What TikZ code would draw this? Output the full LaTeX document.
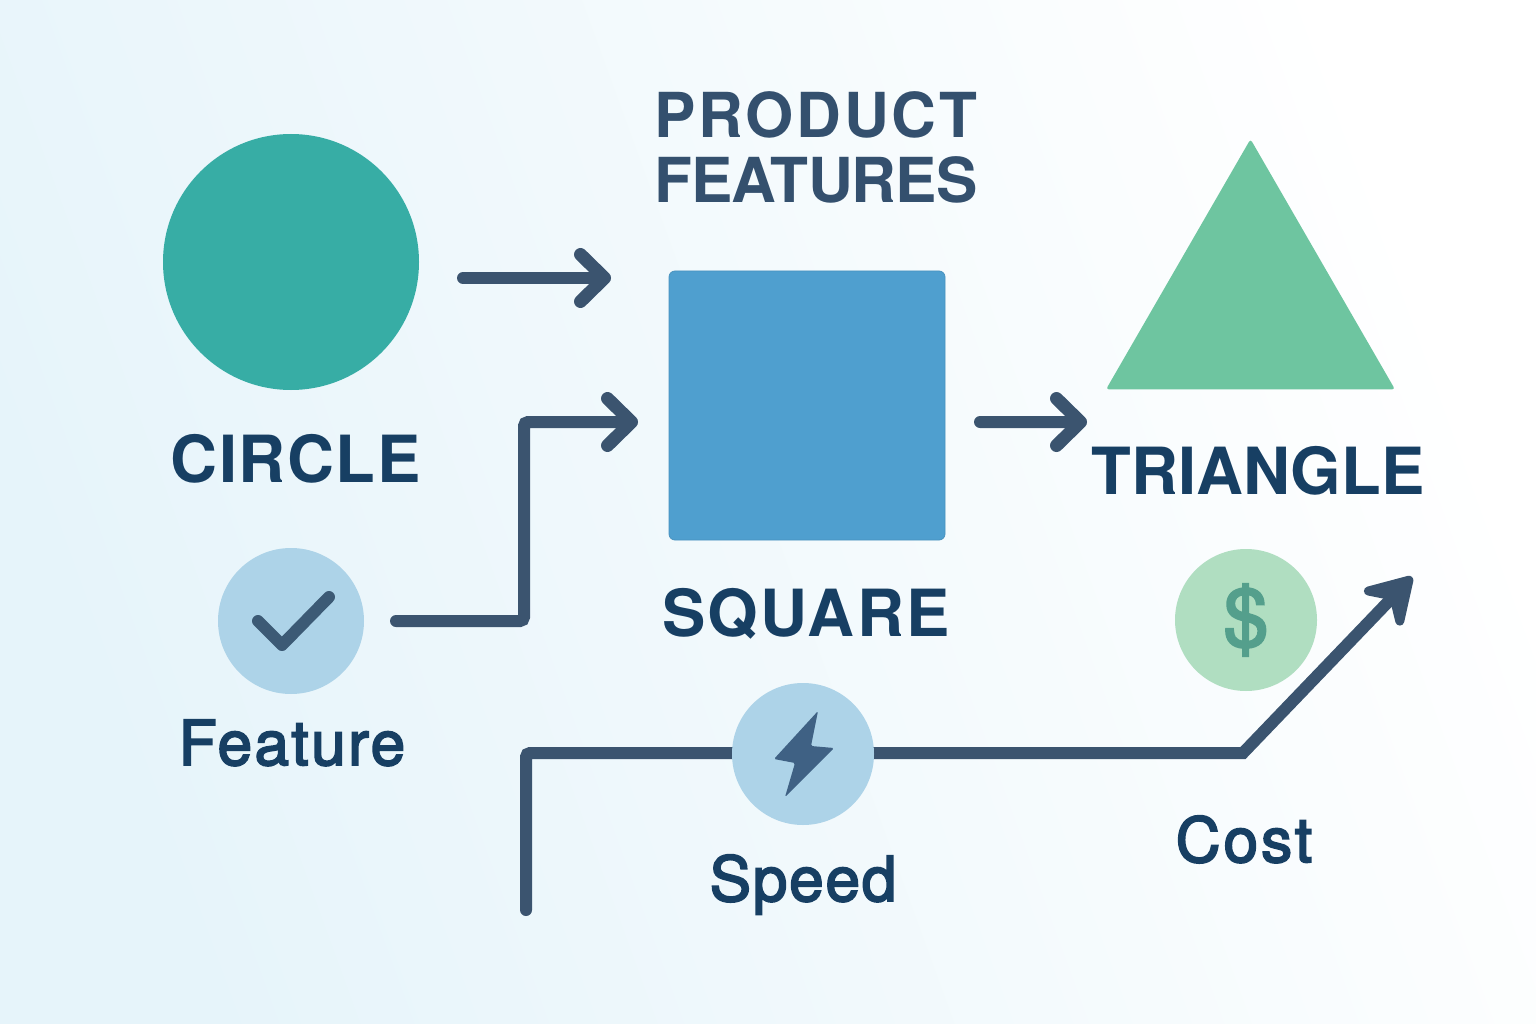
\documentclass[tikz,border=0pt]{standalone}
\usepackage{fontspec}
\setmainfont{TeX Gyre Heros}
\newfontfamily\labelfont[FakeBold=3]{TeX Gyre Heros}
\usetikzlibrary{arrows.meta,shapes.geometric}
\definecolor{inkdark}{HTML}{173F63}
\definecolor{inktitle}{HTML}{34506E}
\definecolor{linecol}{HTML}{3B546F}
\definecolor{tealcol}{HTML}{37ADA5}
\definecolor{bluecol}{HTML}{4F9FCF}
\definecolor{greencol}{HTML}{6EC5A0}
\definecolor{iconblue}{HTML}{ADD3E8}
\definecolor{icongreen}{HTML}{B0DEC1}
\definecolor{dollarcol}{HTML}{549F8C}
\definecolor{boltcol}{HTML}{3F6184}
\definecolor{checkcol}{HTML}{3C5A75}
\definecolor{bgleft}{HTML}{E6F4FA}
\definecolor{bgmiddle}{HTML}{F4FAFC}
\definecolor{bgright}{HTML}{FFFFFF}
\tikzset{
  shapelabel/.style={anchor=base, inner sep=0pt, text=inkdark, font=\fontsize{65}{65}\selectfont\bfseries},
  smalllabel/.style={anchor=base, inner sep=0pt, text=inkdark, font=\fontsize{62}{62}\selectfont\labelfont},
  iconcircle/.style={circle, inner sep=0pt, outer sep=0pt, minimum size=#1},
  flowline/.style={draw=linecol, line width=12pt, line cap=round, rounded corners=4pt},
  flowarrow/.style={flowline, -{Straight Barb[length=24pt,width=47pt,round,line width=13pt]}},
}
\begin{document}
\begin{tikzpicture}[x=1pt, y=-1pt]
\useasboundingbox (0,0) rectangle (1536,1024);
\shade[left color=bgleft, middle color=bgmiddle, right color=bgright, shading angle=110] (0,0) rectangle (1536,1024);

% shapes
\node[iconcircle=256pt, fill=tealcol] (circleshape) at (291,262) {};
\node[rectangle, rounded corners=6pt, fill=bluecol, draw=bluecol!92!black, line width=0.8pt, inner sep=0pt, outer sep=0pt,
  minimum width=276pt, minimum height=269pt] (squareshape) at (807,405.5) {};
\node[regular polygon, regular polygon sides=3, rounded corners=3pt, fill=greencol, inner sep=0pt, outer sep=0pt,
  minimum size=333.7pt] (triangleshape) at (1250.5,306) {};

% labels
\node[anchor=base, inner sep=0pt, text=inktitle, align=center,
  font=\fontsize{62}{65}\selectfont\bfseries] (titlelabel) at (816,203)
  {{\addfontfeature{LetterSpace=4.3}PRODUCT}\\{\addfontfeature{LetterSpace=-1.3}FEATURES}};
\node[shapelabel] (circlelabel) at (295.5,482) {\addfontfeature{LetterSpace=2.5}CIRCLE};
\node[shapelabel] (squarelabel) at (806,636) {\addfontfeature{LetterSpace=3.5}SQUARE};
\node[shapelabel] (trianglelabel) at (1258,494) {TRIANGLE};
\node[smalllabel] (featurelabel) at (292,765) {\addfontfeature{LetterSpace=4}Feature};
\node[smalllabel] (speedlabel) at (803,901) {\addfontfeature{LetterSpace=3}Speed};
\node[smalllabel] (costlabel) at (1244,862) {\addfontfeature{LetterSpace=5}Cost};

% icons
\node[iconcircle=146pt, fill=iconblue] (featureicon) at (291,621) {};
\node[iconcircle=142pt, fill=icongreen] (costicon) at (1246,620) {};

% connectors
\draw[flowarrow, shorten <=44pt, shorten >=58pt] ([yshift=-16pt]circleshape.east) -- ([yshift=127.5pt]squareshape.west);
\draw[flowarrow, shorten <=32pt, shorten >=31pt] (featureicon.east) -- (524,621) -- (524,422) -- ([yshift=-16.5pt]squareshape.west);
\draw[flowarrow, shorten <=35pt] ([yshift=-16.5pt]squareshape.east) -- ([xshift=-19pt,yshift=-32.6pt]triangleshape.corner 2);
\coordinate (speedstart) at (526,910);
\coordinate (costtip) at (1412,577);
\draw[flowline] (speedstart) -- (526,753) -- (803,753);
\draw[flowline, sharp corners, -{Stealth[length=58pt,width=70pt,inset=22pt,round,line width=9pt]}] (803,753) -- (1243,753) -- (costtip);

% speed icon sits on the line
\node[iconcircle=142pt, fill=iconblue] (speedicon) at (803,754) {};

% glyphs
\draw[draw=checkcol, line width=12pt, line cap=round, line join=round] (258,621) -- (282,645) -- (329,597);
\fill[boltcol, rounded corners=1.5pt] (818,711) -- (774,759) -- (795,763) -- (785,797) -- (834,748) -- (811,746) -- cycle;
\node[inner sep=0pt, text=dollarcol, font=\fontsize{80}{80}\selectfont\labelfont] (dollarsign) at (1246,620) {\$};
\end{tikzpicture}
\end{document}
